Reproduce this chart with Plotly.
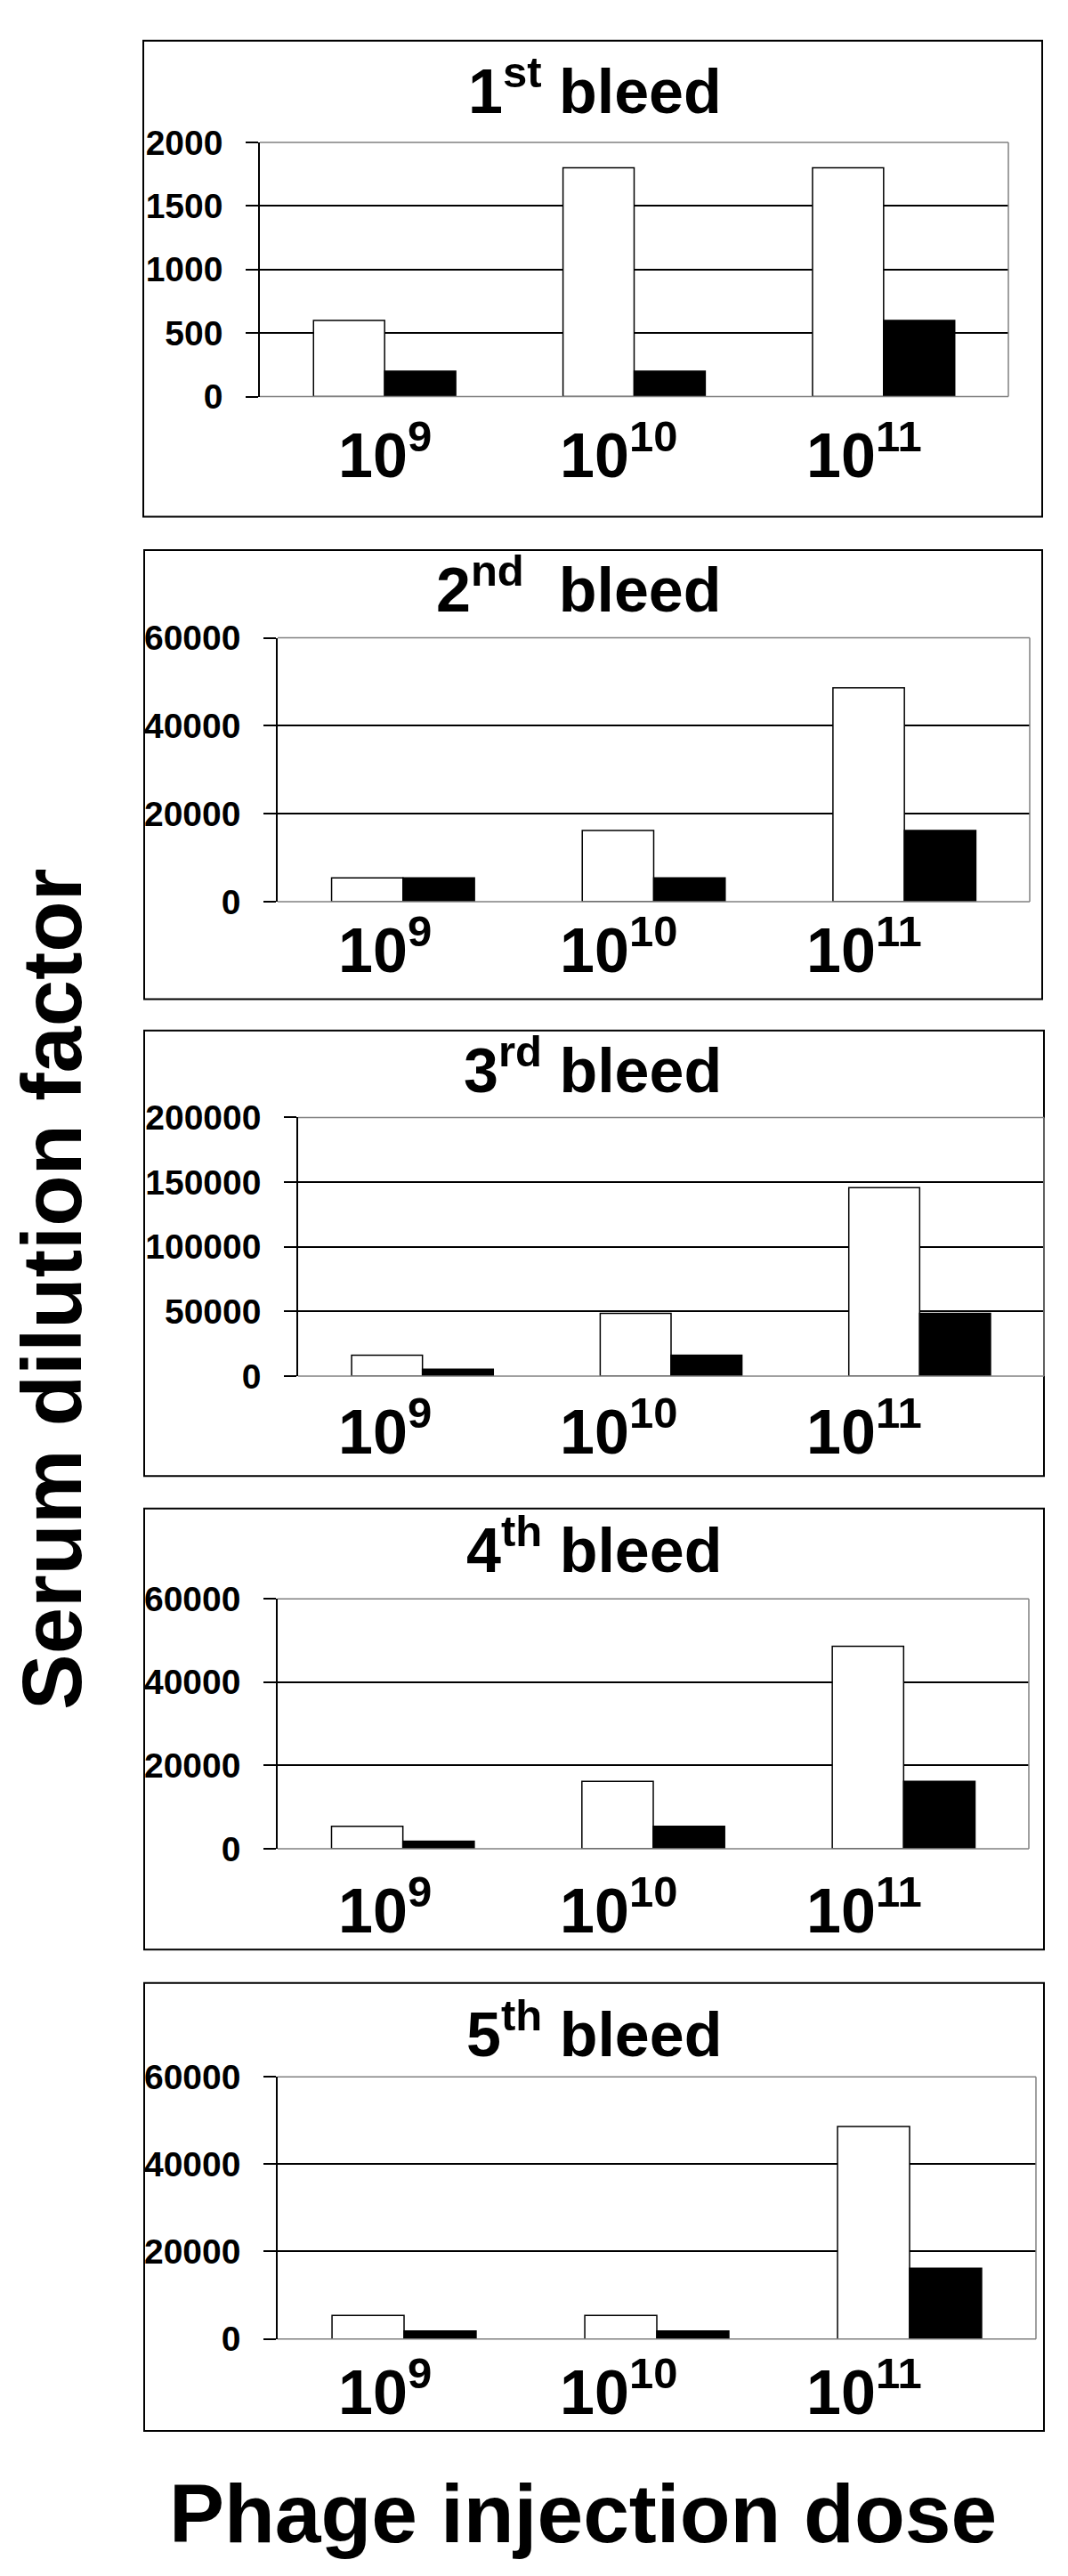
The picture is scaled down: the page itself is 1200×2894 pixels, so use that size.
import plotly.graph_objects as go

# ---------------- data ----------------
doses = ["10<sup>9</sup>", "10<sup>10</sup>", "10<sup>11</sup>"]
bleed_titles = ["1<sup>st</sup> bleed", "2<sup>nd</sup>\u00a0 bleed", "3<sup>rd</sup> bleed",
                "4<sup>th</sup> bleed", "5<sup>th</sup> bleed"]
white_series = [
    [600, 1800, 1800],
    [5400, 16200, 48600],
    [16200, 48600, 145800],
    [5400, 16200, 48600],
    [5400, 5400, 48600],
]
black_series = [
    [200, 200, 600],
    [5400, 5400, 16200],
    [5400, 16200, 48600],
    [1800, 5400, 16200],
    [1800, 1800, 16200],
]
y_max = [2000, 60000, 200000, 60000, 60000]
y_step = [500, 20000, 50000, 20000, 20000]

# ---------------- layout (pixels) ----------------
W, H = 1200, 2894
plot_px = [(292, 1133, 141, 431), (312, 1157, 706, 1007), (335, 1173, 1253, 1548),
           (312, 1156, 1802, 2087), (312, 1164, 2347, 2646)]
box_px = [(161, 1171, 25, 568), (162, 1171, 606, 1118), (162, 1173, 1154, 1662),
          (162, 1173, 1699, 2202), (162, 1173, 2240, 2751)]
title_baseline = [108, 676, 1225, 1772, 2324]
label_baseline = [523, 1088, 1637, 2183, 2732]
label_left = [378, 627, 904]
title_right = 813

FONT = "Liberation Sans, Arial, sans-serif"


def px(x):
    return x / W


def py(y):
    return 1 - y / H


fig = go.Figure()
layout = dict(
    width=W, height=H,
    margin=dict(l=0, r=0, t=0, b=0),
    paper_bgcolor="white", plot_bgcolor="white",
    barmode="group", bargap=0.43, bargroupgap=0,
    showlegend=False,
    font=dict(family=FONT, color="black"),
)
shapes = []
annotations = []

for i in range(5):
    ax = "" if i == 0 else str(i + 1)
    x0, x1, y0, y1 = plot_px[i]
    fig.add_trace(go.Bar(
        x=doses, y=white_series[i], xaxis="x" + ax, yaxis="y" + ax, name="Series 1",
        marker=dict(color="white", line=dict(color="black", width=1.5)),
    ))
    fig.add_trace(go.Bar(
        x=doses, y=black_series[i], xaxis="x" + ax, yaxis="y" + ax, name="Series 2",
        marker=dict(color="black", line=dict(color="black", width=1.5)),
    ))
    layout["xaxis" + ax] = dict(
        domain=[px(x0), px(x1)], anchor="y" + ax, type="category", range=[-0.5, 2.5],
        showticklabels=False, ticks="", showline=False, showgrid=False, zeroline=False,
        fixedrange=True,
    )
    layout["yaxis" + ax] = dict(
        domain=[py(y1), py(y0)], anchor="x" + ax, range=[0, y_max[i]],
        tickvals=list(range(0, y_max[i] + 1, y_step[i])), tickformat="d",
        ticks="outside", ticklen=14, tickwidth=1.5, tickcolor="black",
        showline=True, linecolor="black", linewidth=1.5,
        showgrid=True, gridcolor="black", gridwidth=1.5, zeroline=False,
        tickfont=dict(family=FONT, size=39, color="black", weight="bold"),
        ticklabelstandoff=18, fixedrange=True,
    )
    # plot-area border (grey): top, right, bottom edges
    for (ax0, ay0, ax1, ay1) in [(0, 1, 1, 1), (1, 0, 1, 1), (0, 0, 1, 0)]:
        shapes.append(dict(type="line", xref="x" + ax + " domain", yref="y" + ax + " domain",
                           x0=ax0, y0=ay0, x1=ax1, y1=ay1,
                           line=dict(color="#808080", width=1.5), layer="above"))
    # panel frame
    bx0, bx1, by0, by1 = box_px[i]
    shapes.append(dict(type="rect", xref="paper", yref="paper",
                       x0=px(bx0), x1=px(bx1), y0=py(by1), y1=py(by0),
                       line=dict(color="black", width=2), layer="below"))
    # panel title
    annotations.append(dict(text=bleed_titles[i], xref="paper", yref="paper",
                            x=px(title_right), y=py(title_baseline[i] + 0.212 * 70 + 2),
                            xanchor="right", yanchor="bottom", showarrow=False,
                            font=dict(family=FONT, size=70, color="black", weight="bold")))
    # dose labels
    for j, d in enumerate(doses):
        annotations.append(dict(text=d, xref="paper", yref="paper",
                                x=px(label_left[j]), y=py(label_baseline[i] + 0.212 * 70 + 2),
                                xanchor="left", yanchor="bottom", showarrow=False,
                                font=dict(family=FONT, size=70, color="black", weight="bold")))

annotations.append(dict(text="Serum dilution factor", xref="paper", yref="paper",
                        x=px(112), y=py(1449), xanchor="right", yanchor="middle",
                        textangle=-90, showarrow=False, borderpad=0,
                        font=dict(family=FONT, size=94, color="black", weight="bold")))
annotations.append(dict(text="Phage injection dose", xref="paper", yref="paper",
                        x=px(655), y=py(2878 + 0.212 * 93 + 2), xanchor="center", yanchor="bottom",
                        showarrow=False,
                        font=dict(family=FONT, size=93, color="black", weight="bold")))

layout["shapes"] = shapes
layout["annotations"] = annotations
fig.update_layout(**layout)
fig.write_html(
    "out.html",
    config={"displayModeBar": False},
    post_script="document.body.style.margin='0';document.body.style.overflow='hidden';",
)
